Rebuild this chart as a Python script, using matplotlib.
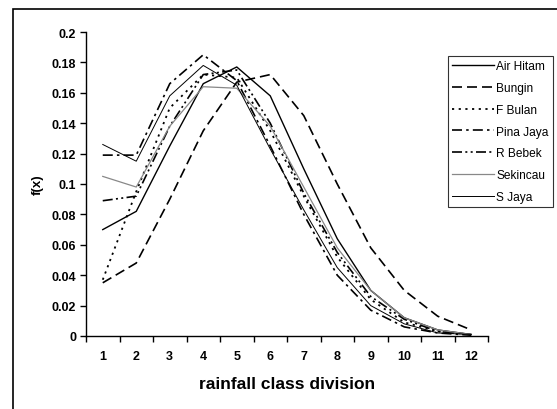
import matplotlib.pyplot as plt
from matplotlib.patches import Rectangle

plt.rcParams['font.family'] = ['Liberation Sans', 'DejaVu Sans']

# rainfall classes
classes = [1, 2, 3, 4, 5, 6, 7, 8, 9, 10, 11, 12]

# f(x) per station
air_hitam = [0.070, 0.082, 0.125, 0.166, 0.177, 0.158, 0.110, 0.064, 0.030, 0.012, 0.004, 0.001]
bungin = [0.035, 0.048, 0.090, 0.135, 0.167, 0.172, 0.145, 0.100, 0.058, 0.030, 0.013, 0.004]
f_bulan = [0.037, 0.095, 0.150, 0.172, 0.170, 0.135, 0.092, 0.052, 0.024, 0.009, 0.003, 0.001]
pina_jaya = [0.119, 0.119, 0.166, 0.185, 0.168, 0.125, 0.080, 0.040, 0.017, 0.006, 0.002, 0.0005]
r_bebek = [0.089, 0.092, 0.138, 0.172, 0.175, 0.140, 0.094, 0.055, 0.026, 0.011, 0.003, 0.001]
sekincau = [0.105, 0.098, 0.138, 0.164, 0.163, 0.138, 0.098, 0.058, 0.030, 0.012, 0.004, 0.001]
s_jaya = [0.126, 0.115, 0.158, 0.178, 0.165, 0.123, 0.083, 0.045, 0.020, 0.008, 0.002, 0.001]

yticks = [0, 0.02, 0.04, 0.06, 0.08, 0.1, 0.12, 0.14, 0.16, 0.18, 0.2]
ytick_labels = ['0', '0.02', '0.04', '0.06', '0.08', '0.1', '0.12', '0.14', '0.16', '0.18', '0.2']

fig = plt.figure(figsize=(5.57, 4.10), dpi=100)
ax = fig.add_axes([86 / 557, 1 - 337 / 410, 402 / 557, 304 / 410])

# outer chart-area border (partly off the page like the source)
fig.patches.append(Rectangle((13 / 557, -0.1), 1.2, 1 - 10 / 410 + 0.1,
                             transform=fig.transFigure, fill=False,
                             edgecolor='black', linewidth=1.2))

ax.plot(classes, air_hitam, color='black', linewidth=1.0, label='Air Hitam')
ax.plot(classes, bungin, color='black', linewidth=1.2, dashes=(6, 3), label='Bungin')
ax.plot(classes, f_bulan, color='black', linewidth=1.3, dashes=(1.2, 2.5), label='F Bulan')
ax.plot(classes, pina_jaya, color='black', linewidth=1.2, dashes=(6, 2.5, 1.5, 2.5), label='Pina Jaya')
ax.plot(classes, r_bebek, color='black', linewidth=1.2, dashes=(6, 2, 1.2, 2, 1.2, 2), label='R Bebek')
ax.plot(classes, sekincau, color='#888888', linewidth=0.9, label='Sekincau')
ax.plot(classes, s_jaya, color='black', linewidth=0.7, label='S Jaya')

ax.set_xlim(0.5, 12.5)
ax.set_ylim(0, 0.2)
ax.set_yticks(yticks)
ax.set_yticklabels(ytick_labels, fontsize=9, fontweight='bold')
ax.set_xticks(classes)
ax.set_xticklabels([str(c) for c in classes], fontsize=9, fontweight='bold')
ax.set_xticks([c + 0.5 for c in [0] + classes], minor=True)
ax.tick_params(axis='x', which='major', length=0, pad=10)
ax.tick_params(axis='x', which='minor', length=4, width=1, direction='out')
ax.tick_params(axis='y', length=4, width=1, direction='out', pad=3)

for side in ['top', 'right']:
    ax.spines[side].set_visible(False)
for side in ['left', 'bottom']:
    ax.spines[side].set_linewidth(1.0)

ax.set_xlabel('rainfall class division', fontsize=12.5, fontweight='bold', labelpad=10)
ax.set_ylabel('f(x)', fontsize=9.5, fontweight='bold', labelpad=6)

leg = fig.legend(loc='upper left', bbox_to_anchor=(448 / 557, 1 - 57 / 410),
                 fontsize=8.6, frameon=True, fancybox=False, edgecolor='black',
                 handlelength=3.5, handletextpad=0.2, borderpad=0.35,
                 labelspacing=0.82, borderaxespad=0)
leg.get_frame().set_linewidth(0.8)

fig.savefig('out.png', dpi=100)
